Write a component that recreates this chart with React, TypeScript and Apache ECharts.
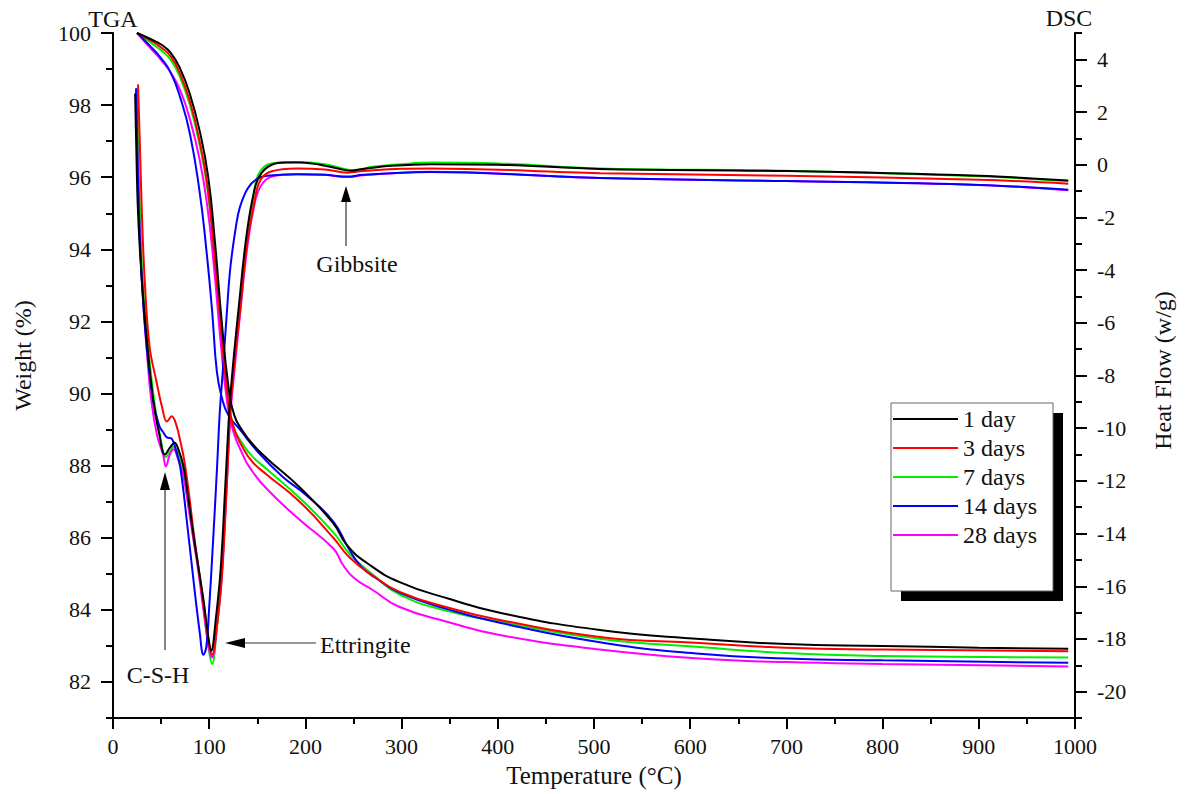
import React, { useEffect, useRef } from "react";
import * as echarts from "echarts";

const seriesNames = ["1 day", "3 days", "7 days", "14 days", "28 days"];
const seriesColors = ["#000000", "#ff0000", "#00ee00", "#0000ff", "#ff00ff"];

// TGA: [temperature °C, weight %]
const tga1Day = [[25,100],[40,99.82],[50,99.68],[60,99.45],[70,99.0],[80,98.3],[90,97.3],[99,96.0],[106,94.2],[113,92.0],[120,90.2],[126,89.4],[135,88.95],[145,88.6],[160,88.2],[194,87.4],[229,86.4],[243,85.8],[264,85.3],[298,84.77],[350,84.3],[402,83.92],[506,83.44],[610,83.19],[700,83.05],[800,83.0],[900,82.95],[993,82.92]];
const tga3Days = [[25,100],[40,99.78],[50,99.6],[60,99.35],[70,98.85],[80,98.1],[90,97.0],[98,95.8],[105,94.0],[112,91.9],[119,90.0],[125,89.1],[135,88.5],[145,88.1],[160,87.75],[194,87.0],[229,86.0],[246,85.45],[270,84.95],[298,84.5],[350,84.05],[402,83.72],[506,83.25],[610,83.08],[700,82.95],[800,82.9],[993,82.85]];
const tga7Days = [[25,100],[40,99.72],[50,99.52],[60,99.25],[70,98.75],[80,98.0],[90,96.9],[98,95.7],[105,93.9],[112,91.8],[119,90.0],[125,89.1],[135,88.6],[145,88.25],[160,87.9],[194,87.1],[229,86.15],[246,85.55],[270,84.98],[298,84.42],[350,83.95],[402,83.67],[506,83.2],[610,82.97],[700,82.8],[800,82.72],[993,82.68]];
const tga14Days = [[25,100],[40,99.6],[50,99.3],[60,98.9],[70,98.2],[80,97.2],[90,95.6],[97,94.0],[103,92.3],[108,90.6],[113,89.9],[120,89.4],[132,89.0],[150,88.4],[176,87.7],[200,87.2],[229,86.45],[245,85.7],[258,85.2],[275,84.85],[300,84.45],[350,84.0],[402,83.64],[506,83.1],[610,82.78],[700,82.65],[800,82.6],[993,82.53]];
const tga28Days = [[25,100],[40,99.55],[50,99.25],[60,98.9],[70,98.4],[80,97.6],[90,96.5],[98,95.2],[105,93.5],[112,91.4],[119,89.7],[125,88.95],[135,88.3],[142,87.95],[160,87.35],[194,86.5],[229,85.7],[239,85.25],[250,84.9],[270,84.55],[298,84.08],[350,83.65],[402,83.3],[506,82.9],[610,82.65],[700,82.55],[800,82.5],[993,82.43]];

// DSC: [temperature °C, heat flow W/g]
const dsc1Day = [[23,2.7],[24,1.0],[26,-1.8],[30,-4.4],[35,-6.6],[42,-9.0],[48,-10.2],[54,-11.0],[59,-10.75],[64,-10.55],[68,-10.8],[73,-11.4],[78,-12.6],[83,-13.9],[88,-15.1],[94,-16.5],[99,-17.9],[102,-18.45],[107,-17.2],[112,-15.3],[117,-12.0],[121,-9.3],[125,-7.5],[131,-5.3],[138,-2.9],[145,-1.3],[152,-0.45],[165,0.0],[180,0.08],[195,0.08],[215,0.0],[235,-0.15],[247,-0.23],[260,-0.16],[290,-0.04],[330,0.02],[400,0.0],[506,-0.16],[700,-0.24],[900,-0.42],[993,-0.6]];
const dsc3Days = [[26,3.05],[28,0.7],[30,-1.8],[33,-4.4],[38,-6.9],[45,-8.2],[51,-9.2],[56,-9.75],[61,-9.55],[66,-9.9],[70,-10.5],[74,-11.2],[79,-12.5],[84,-14.0],[90,-15.6],[96,-17.2],[100,-18.2],[103,-18.6],[108,-17.5],[113,-15.75],[118,-12.4],[122,-9.3],[126,-7.6],[132,-5.6],[139,-3.1],[146,-1.6],[153,-0.6],[165,-0.25],[191,-0.14],[220,-0.18],[244,-0.3],[260,-0.24],[300,-0.15],[330,-0.14],[506,-0.32],[700,-0.42],[900,-0.57],[993,-0.72]];
const dsc7Days = [[25,2.9],[26,1.0],[28,-1.8],[31,-4.4],[36,-6.7],[43,-9.0],[49,-10.3],[55,-11.1],[59,-10.9],[63,-10.7],[68,-11.0],[73,-11.6],[78,-12.8],[83,-14.0],[89,-15.3],[94,-16.8],[100,-18.5],[103,-18.95],[108,-17.6],[113,-15.6],[118,-12.2],[122,-9.3],[126,-7.6],[132,-5.4],[139,-2.9],[146,-1.2],[152,-0.3],[165,0.05],[191,0.1],[220,0.02],[243,-0.18],[250,-0.2],[270,-0.08],[300,0.02],[330,0.08],[400,0.05],[506,-0.14],[700,-0.23],[900,-0.44],[993,-0.63]];
const dsc14Days = [[24,2.9],[25,1.0],[27,-1.8],[30,-4.4],[35,-6.9],[42,-9.0],[48,-9.9],[53,-10.2],[56,-10.35],[61,-10.4],[66,-10.9],[70,-11.5],[77,-13.6],[85,-16.2],[90,-17.7],[94,-18.6],[97,-18.3],[100,-16.8],[104,-14.3],[108,-11.6],[111,-9.4],[114,-7.9],[118,-5.8],[122,-3.9],[128,-2.3],[132,-1.6],[140,-0.9],[149,-0.55],[160,-0.42],[191,-0.36],[220,-0.38],[243,-0.45],[260,-0.38],[300,-0.3],[330,-0.28],[506,-0.5],[700,-0.62],[900,-0.77],[993,-0.95]];
const dsc28Days = [[24,2.8],[25,1.0],[27,-1.8],[30,-4.4],[35,-7.0],[40,-9.0],[46,-10.3],[52,-11.0],[55,-11.45],[59,-11.0],[63,-10.8],[67,-11.1],[73,-11.8],[78,-12.9],[83,-14.1],[89,-15.5],[94,-16.9],[100,-18.4],[103,-18.7],[108,-17.5],[113,-15.6],[118,-12.3],[122,-9.5],[126,-7.9],[132,-5.7],[139,-3.3],[146,-1.7],[153,-0.85],[165,-0.45],[191,-0.36],[220,-0.38],[244,-0.47],[260,-0.4],[300,-0.3],[330,-0.27],[506,-0.5],[700,-0.62],[900,-0.77],[993,-0.97]];

const tgaData = [tga1Day, tga3Days, tga7Days, tga14Days, tga28Days];
const dscData = [dsc1Day, dsc3Days, dsc7Days, dsc14Days, dsc28Days];

const weightTicks = [82, 84, 86, 88, 90, 92, 94, 96, 98, 100];
const weightMinorTicks = [81, 83, 85, 87, 89, 91, 93, 95, 97, 99];
const heatTicks = [-20, -18, -16, -14, -12, -10, -8, -6, -4, -2, 0, 2, 4];
const heatMinorTicks = [-21, -19, -17, -15, -13, -11, -9, -7, -5, -3, -1, 1, 3, 5];

const FONT = "Liberation Serif";
const TXT = "#111";

export default function App() {
  const ref = useRef<HTMLDivElement>(null);
  useEffect(() => {
    if (!ref.current) return;
    const chart = echarts.init(ref.current, null, { renderer: "svg" });
    const axisLine = { show: true, onZero: false, lineStyle: { color: "#000", width: 2 } };
    const order = [2, 4, 3, 1, 0];
    const series: any[] = [];
    order.forEach((i) => {
      series.push({
        name: seriesNames[i], type: "line", yAxisIndex: 0, data: tgaData[i],
        showSymbol: false, symbol: "none", smooth: 0.5,
        lineStyle: { color: seriesColors[i], width: 2 }, itemStyle: { color: seriesColors[i] },
      });
      series.push({
        name: seriesNames[i], type: "line", yAxisIndex: 1, data: dscData[i],
        showSymbol: false, symbol: "none", smooth: 0.4,
        lineStyle: { color: seriesColors[i], width: 2 }, itemStyle: { color: seriesColors[i] },
      });
    });
    const arrowColor = "#333";
    chart.setOption({
      animation: false,
      backgroundColor: "#fff",
      textStyle: { fontFamily: FONT, color: TXT },
      grid: { left: 113, right: 112, top: 33, bottom: 76 },
      xAxis: {
        type: "value", min: 0, max: 1000, interval: 100,
        axisLine,
        axisTick: { show: true, inside: false, length: 11, lineStyle: { color: "#000", width: 2 } },
        minorTick: { show: true, splitNumber: 2, length: 6, lineStyle: { color: "#000", width: 2 } },
        splitLine: { show: false },
        axisLabel: { fontFamily: FONT, fontSize: 22, color: TXT, margin: 17, formatter: (v: number) => String(v) },
        name: "Temperature (°C)", nameLocation: "middle", nameGap: 45,
        nameTextStyle: { fontFamily: FONT, fontSize: 25, color: TXT },
      },
      yAxis: [
        {
          type: "value", position: "left", min: 81, max: 100,
          axisLine,
          axisTick: { show: true, length: 12, customValues: weightTicks, lineStyle: { color: "#000", width: 2 } },
          axisLabel: { customValues: weightTicks, fontFamily: FONT, fontSize: 22, color: TXT, margin: 22 },
          splitLine: { show: false },
          name: "Weight (%)", nameLocation: "middle", nameGap: 78, nameRotate: 90,
          nameTextStyle: { fontFamily: FONT, fontSize: 24, color: TXT, padding: [0, 0, 0, 40] },
        },
        {
          type: "value", position: "right", min: -21, max: 5,
          axisLine,
          axisTick: { show: true, length: 12, customValues: heatTicks, lineStyle: { color: "#000", width: 2 } },
          axisLabel: { customValues: heatTicks, fontFamily: FONT, fontSize: 22, color: TXT, margin: 22 },
          splitLine: { show: false },
          name: "Heat Flow (w/g)", nameLocation: "middle", nameGap: 76, nameRotate: 90,
          nameTextStyle: { fontFamily: FONT, fontSize: 24, color: TXT, padding: [0, 0, 0, 10] },
        },
        {
          type: "value", position: "left", min: 81, max: 100,
          axisLine: { show: false },
          axisTick: { show: true, length: 7, customValues: weightMinorTicks, lineStyle: { color: "#000", width: 2 } },
          axisLabel: { show: false, customValues: weightMinorTicks },
          splitLine: { show: false },
        },
        {
          type: "value", position: "right", min: -21, max: 5,
          axisLine: { show: false },
          axisTick: { show: true, length: 7, customValues: heatMinorTicks, lineStyle: { color: "#000", width: 2 } },
          axisLabel: { show: false, customValues: heatMinorTicks },
          splitLine: { show: false },
        },
      ],
      legend: {
        data: seriesNames, orient: "vertical", left: 893, top: 407, padding: 0,
        icon: "rect", itemWidth: 65, itemHeight: 2, itemGap: 5,
        textStyle: { fontFamily: FONT, fontSize: 24, color: TXT, lineHeight: 22 },
        selectedMode: false,
      },
      graphic: [
        { type: "rect", z: 1, shape: { x: 901, y: 413, width: 162, height: 188 }, style: { fill: "#000" } },
        { type: "rect", z: 2, shape: { x: 891, y: 403, width: 162, height: 188 }, style: { fill: "#fff", stroke: "#666", lineWidth: 1 } },
        { type: "text", z: 10, x: 113, y: 19, style: { text: "TGA", fontFamily: FONT, fontSize: 24, fill: TXT, align: "center", verticalAlign: "middle" } },
        { type: "text", z: 10, x: 1069, y: 18, style: { text: "DSC", fontFamily: FONT, fontSize: 24, fill: TXT, align: "center", verticalAlign: "middle" } },
        // Gibbsite
        { type: "line", z: 10, shape: { x1: 346, y1: 200, x2: 346, y2: 246 }, style: { stroke: arrowColor, lineWidth: 1.2 } },
        { type: "polygon", z: 10, shape: { points: [[346, 186], [341, 202], [351, 202]] }, style: { fill: "#000" } },
        { type: "text", z: 10, x: 357, y: 264, style: { text: "Gibbsite", fontFamily: FONT, fontSize: 24, fill: TXT, align: "center", verticalAlign: "middle" } },
        // C-S-H
        { type: "line", z: 10, shape: { x1: 165, y1: 488, x2: 165, y2: 650 }, style: { stroke: arrowColor, lineWidth: 1.2 } },
        { type: "polygon", z: 10, shape: { points: [[165, 472], [160, 490], [170, 490]] }, style: { fill: "#000" } },
        { type: "text", z: 10, x: 158, y: 675, style: { text: "C-S-H", fontFamily: FONT, fontSize: 24, fill: TXT, align: "center", verticalAlign: "middle" } },
        // Ettringite
        { type: "line", z: 10, shape: { x1: 243, y1: 643, x2: 316, y2: 643 }, style: { stroke: arrowColor, lineWidth: 1.2 } },
        { type: "polygon", z: 10, shape: { points: [[225, 643], [245, 638], [245, 648]] }, style: { fill: "#000" } },
        { type: "text", z: 10, x: 320, y: 645, style: { text: "Ettringite", fontFamily: FONT, fontSize: 24, fill: TXT, align: "left", verticalAlign: "middle" } },
      ],
      series,
    });
    return () => chart.dispose();
  }, []);
  return <div ref={ref} style={{ position: "absolute", left: 0, top: 0, width: 1187, height: 794 }} />;
}
